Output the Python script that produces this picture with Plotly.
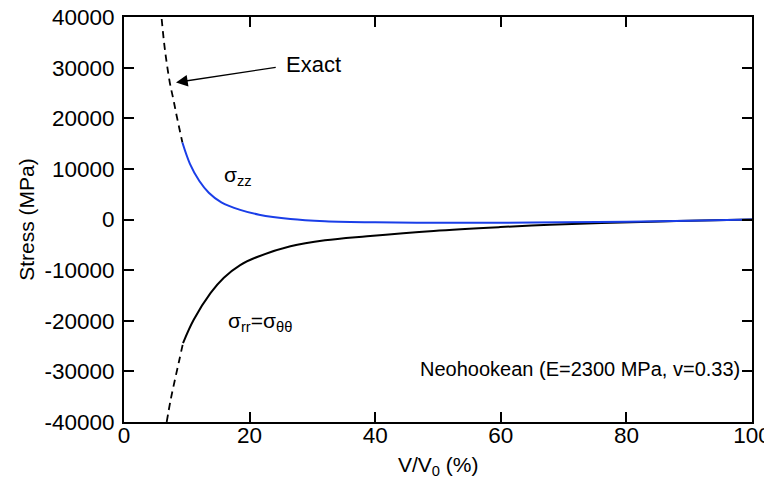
import plotly.graph_objects as go

# sigma_zz (simulation, solid blue)
szz_x = [9.3, 10.5, 12.0, 13.5, 15.5, 18.5, 21.5, 26.5, 32, 40, 50, 60, 70, 80, 90, 100]
szz_y = [15200, 11000, 7600, 5300, 3400, 1900, 950, 100, -330, -560, -650, -630, -560, -430, -230, 0]

# sigma_zz exact (dashed black, visible part)
szz_ex_x = [6.0, 6.5, 7.3, 7.85, 8.4, 9.3]
szz_ex_y = [39600, 33700, 27000, 23800, 20400, 15200]

# sigma_rr = sigma_thetatheta (simulation, solid black)
srr_x = [9.4, 11.1, 13.8, 15.9, 18.5, 21.2, 26.5, 32, 38.7, 49.3, 59.9, 67.8, 76, 88, 100]
srr_y = [-24400, -19800, -14500, -11500, -9000, -7400, -5300, -4100, -3300, -2250, -1500,
         -1050, -700, -300, 0]

# sigma_rr exact (dashed black, visible part)
srr_ex_x = [6.8, 7.43, 8.1, 8.8, 9.4]
srr_ex_y = [-40000, -35600, -31700, -27800, -24400]

x_ticks = [0, 20, 40, 60, 80, 100]
y_ticks = [-40000, -30000, -20000, -10000, 0, 10000, 20000, 30000, 40000]

FONT = "Liberation Sans, Arial, Helvetica, sans-serif"

fig = go.Figure()
fig.add_trace(go.Scatter(x=szz_ex_x, y=szz_ex_y, mode="lines",
                         line=dict(color="black", width=1.8, dash="7px,5px", shape="spline")))
fig.add_trace(go.Scatter(x=srr_ex_x, y=srr_ex_y, mode="lines",
                         line=dict(color="black", width=1.8, dash="7px,5px", shape="spline")))
fig.add_trace(go.Scatter(x=srr_x, y=srr_y, mode="lines",
                         line=dict(color="black", width=2, shape="spline", smoothing=1)))
fig.add_trace(go.Scatter(x=szz_x, y=szz_y, mode="lines",
                         line=dict(color="#1a3ee8", width=2, shape="spline", smoothing=1)))

fig.add_annotation(x=8.28, y=27070, ax=24.4, ay=30100, axref="x", ayref="y",
                   xref="x", yref="y", text="", showarrow=True,
                   arrowhead=2, arrowsize=1.8, arrowwidth=1.3, arrowcolor="black")
fig.add_annotation(x=30.1, y=30700, text="Exact", showarrow=False,
                   font=dict(size=22, color="black", family=FONT))
fig.add_annotation(x=18.2, y=8600, text="σ<sub>zz</sub>", showarrow=False,
                   font=dict(size=21, color="black", family=FONT))
fig.add_annotation(x=21.7, y=-20300, text="σ<sub>rr</sub>=σ<sub>θθ</sub>", showarrow=False,
                   font=dict(size=21, color="black", family=FONT))
fig.add_annotation(x=72.6, y=-29500, text="Neohookean (E=2300 MPa, v=0.33)", showarrow=False,
                   font=dict(size=20, color="black", family=FONT))
# x-axis title
fig.add_annotation(x=0.5, y=-0.109, xref="paper", yref="paper", yanchor="middle",
                   text="V/V<sub>0</sub> (%)", showarrow=False,
                   font=dict(size=21, color="black", family=FONT))

axis_common = dict(showline=True, linewidth=2, linecolor="black", mirror="ticks",
                   ticks="inside", ticklen=10, tickwidth=2, tickcolor="black",
                   showgrid=False, zeroline=False, automargin=False,
                   ticklabeloverflow="allow",
                   tickfont=dict(size=22.5, color="black", family=FONT))

fig.update_xaxes(range=[0, 100], tickvals=x_ticks, ticktext=[str(v) for v in x_ticks],
                 ticklabelstandoff=-8, **axis_common)
fig.update_yaxes(range=[-40000, 40000], tickvals=y_ticks, ticktext=[str(v) for v in y_ticks],
                 ticklabelstandoff=3,
                 title=dict(text="Stress (MPa)", font=dict(size=21, color="black", family=FONT),
                            standoff=4),
                 **axis_common)

# page body has an 8px margin, so shift margins to keep the plot area in place
fig.update_layout(width=772, height=482, showlegend=False,
                  margin=dict(l=116, r=28, t=9, b=68),
                  plot_bgcolor="white", paper_bgcolor="white",
                  font=dict(family=FONT, color="black"))

fig.write_html("out.html")
